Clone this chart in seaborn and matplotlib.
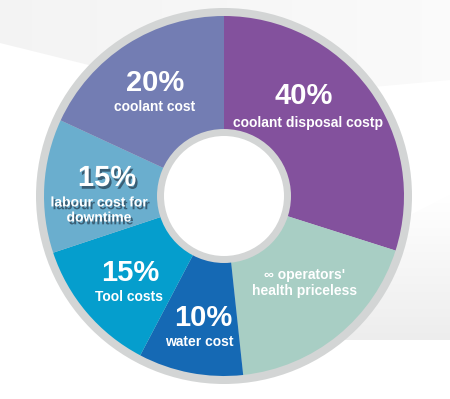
import numpy as np
import matplotlib
matplotlib.use("Agg")
import matplotlib.pyplot as plt
import matplotlib.patheffects as pe
from matplotlib.patches import Circle, Polygon
import seaborn as sns

# ---- data ----
categories = ["coolant disposal costp", "\u221e operators'\nhealth priceless", "water cost",
              "Tool costs", "labour cost for\ndowntime", "coolant cost"]
percent_labels = ["40%", "", "10%", "15%", "15%", "20%"]
slice_share = [29.9, 18.4, 9.4, 12.2, 12.0, 18.1]   # angular share of each wedge as drawn
colors = ["#83519D", "#A8CEC4", "#1569B4", "#059ECD", "#6AAECE", "#737DB3"]

sns.set_theme(style="white")
plt.rcParams['font.family'] = ['Liberation Sans', 'DejaVu Sans']

W, H = 450, 399
fig = plt.figure(figsize=(W / 100, H / 100), dpi=100)
ax = fig.add_axes([0, 0, 1, 1])
fig.patch.set_facecolor("white")

cx, cy = 224, H - 196
R_out, R_in = 180, 67


def Y(y):
    return H - y


def gradient_band(verts, direction, c0, c1):
    """Fill polygon (image coords) with a linear grey gradient."""
    poly = Polygon([(x, Y(y)) for x, y in verts], closed=True, fc="none", ec="none")
    ax.add_patch(poly)
    n = 200
    gx, gy = np.meshgrid(np.linspace(0, 1, n), np.linspace(0, 1, n))
    t = np.clip(direction[0] * gx + direction[1] * gy, 0, 1)
    img = (1 - t)[..., None] * np.array(c0) + t[..., None] * np.array(c1)
    xs = [v[0] for v in verts]
    ys = [Y(v[1]) for v in verts]
    im = ax.imshow(img, extent=(min(xs), max(xs), max(ys), min(ys)), origin="upper",
                   zorder=0, interpolation="bilinear")
    im.set_clip_path(poly)


g_lo = (0.955, 0.955, 0.955)
g_hi = (1.0, 1.0, 1.0)
# upper-left light band
gradient_band([(0, 0), (0, 43), (230, 100), (450, 80), (450, 0)], (0.6, 0.0), g_lo, g_hi)
# right band behind the ring
gradient_band([(330, 255), (450, 195), (450, 340), (330, 340)], (0.0, 1.0), (0.93, 0.93, 0.93), g_hi)

# outer grey ring
ax.add_patch(Circle((cx, cy), R_out + 8, fc="#D3D5D5", ec="none", zorder=1))

ax.pie(slice_share, colors=colors, startangle=90, counterclock=False,
       center=(cx, cy), radius=R_out,
       wedgeprops=dict(width=R_out - R_in + 1, edgecolor="none", linewidth=0, zorder=2),
       frame=False)

# inner grey ring and hole
ax.add_patch(Circle((cx, cy), R_in, fc="#D3D5D5", ec="none", zorder=3))
ax.add_patch(Circle((cx, cy), 60, fc="white", ec="none", zorder=4))

# label layout (pixel positions of text centres, image coordinates)
pct_pos = [(304, 96), None, (203, 318), (130, 273), (107, 178), (155, 83)]
lab_pos = [(308, 123), (305, 283), (199, 342), (129, 297), (99, 210), (155, 107)]

shadow = [pe.withSimplePatchShadow(offset=(1.5, -2), shadow_rgbFace="#1a2a3a", alpha=0.6)]
for i, cat in enumerate(categories):
    eff = shadow if i == 4 else None
    if percent_labels[i]:
        px, py = pct_pos[i]
        t = ax.text(px, Y(py), percent_labels[i], ha="center", va="center", color="white",
                    fontsize=21, fontweight="bold", zorder=5)
        if eff:
            t.set_path_effects(eff)
    lx, ly = lab_pos[i]
    t = ax.text(lx, Y(ly), cat, ha="center", va="center", color="white",
                fontsize=10, fontweight="bold", linespacing=1.1, zorder=5)
    if eff:
        t.set_path_effects(eff)

ax.set_xlim(0, W)
ax.set_ylim(0, H)
ax.set_aspect("equal", adjustable="box")
ax.axis("off")
fig.savefig("out.png", dpi=100, facecolor="white")
